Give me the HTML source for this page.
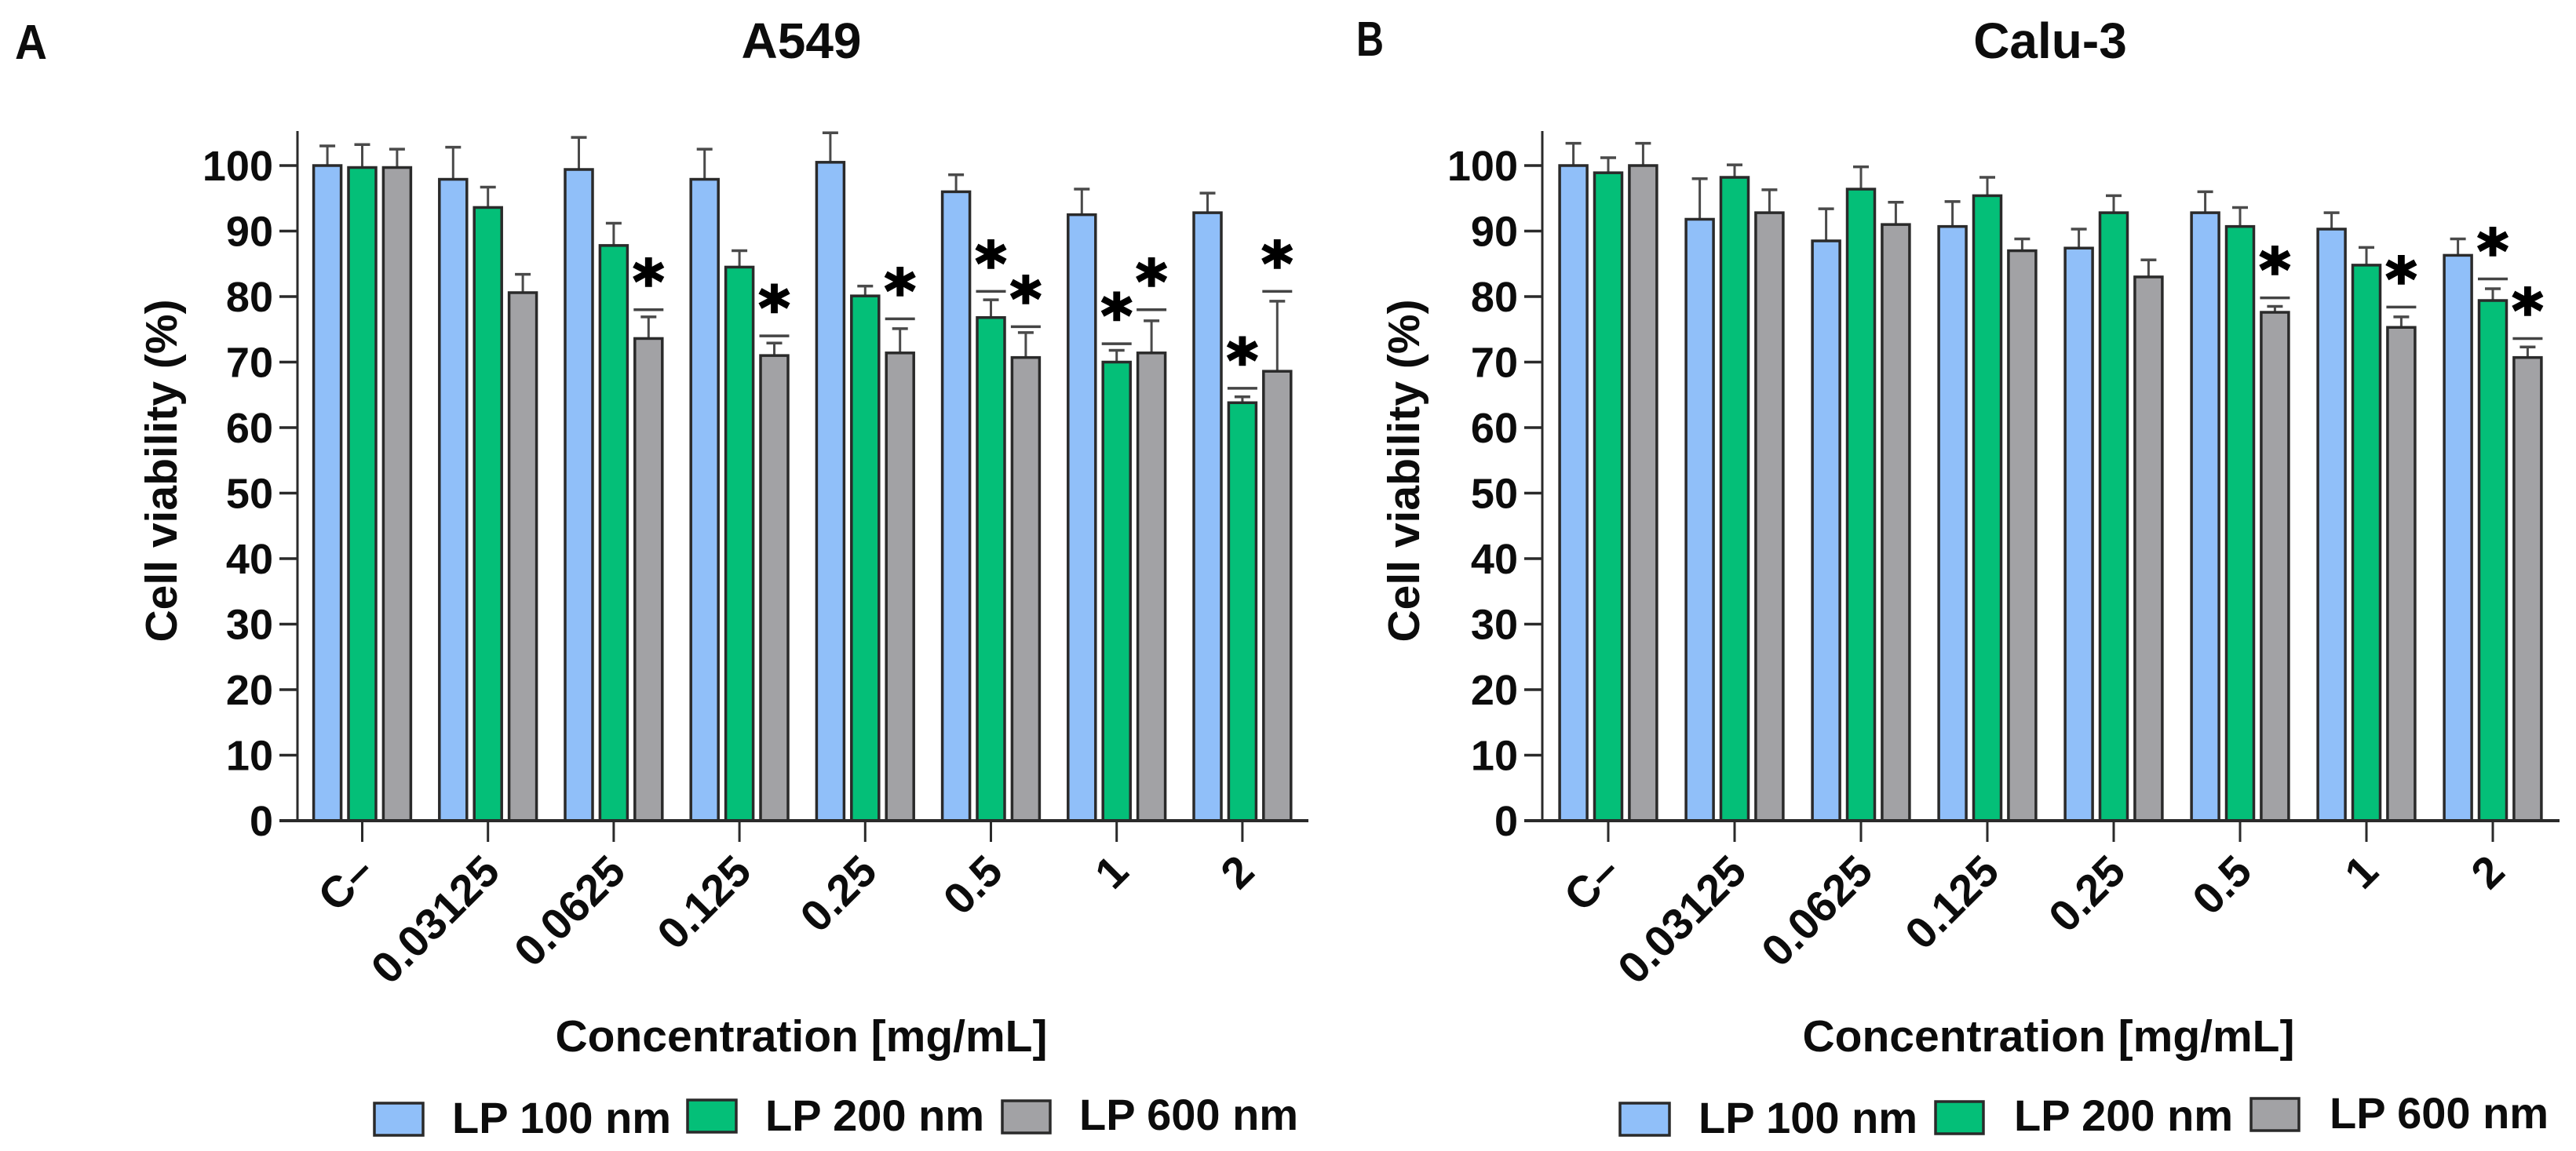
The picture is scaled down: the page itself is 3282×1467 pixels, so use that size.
<!DOCTYPE html>
<html lang="en">
<head>
<meta charset="utf-8">
<title>Cell viability of A549 and Calu-3</title>
<style>
html,body{margin:0;padding:0;background:#fff;width:3282px;height:1467px;overflow:hidden}
svg{display:block}
text{font-family:"Liberation Sans",sans-serif;font-weight:bold;fill:#0c0c0c}
.star{font-family:"DejaVu Sans",sans-serif;fill:#000;stroke:#000;stroke-width:2.5px}
</style>
</head>
<body>
<svg id="figure" xmlns="http://www.w3.org/2000/svg" width="3282" height="1467" viewBox="0 0 3282 1467">
  <text x="19" y="75" font-size="62" textLength="41" lengthAdjust="spacingAndGlyphs">A</text>
  <text x="1728" y="71" font-size="62" textLength="35" lengthAdjust="spacingAndGlyphs">B</text>
  <text x="1021" y="74" font-size="64" text-anchor="middle">A549</text>
  <text x="2612" y="74" font-size="64" text-anchor="middle">Calu-3</text>
  <text transform="translate(225 600) rotate(-90)" font-size="57" text-anchor="middle">Cell viability (%)</text>
  <text transform="translate(1808 600) rotate(-90)" font-size="57" text-anchor="middle">Cell viability (%)</text>
  <text x="1021" y="1340" font-size="57" text-anchor="middle">Concentration [mg/mL]</text>
  <text x="2610" y="1340" font-size="57" text-anchor="middle">Concentration [mg/mL]</text>

  <g>
    <rect x="477" y="1406" width="62" height="41" fill="#90bff9" stroke="#2a2a2a" stroke-width="3.5"/>
    <text x="576" y="1444" font-size="56">LP 100 nm</text>
    <rect x="876" y="1402" width="62" height="41" fill="#04bf78" stroke="#2a2a2a" stroke-width="3.5"/>
    <text x="975" y="1441" font-size="56">LP 200 nm</text>
    <rect x="1277" y="1403" width="61" height="41" fill="#a2a2a5" stroke="#2a2a2a" stroke-width="3.5"/>
    <text x="1375" y="1440" font-size="56">LP 600 nm</text>
  </g>
  <g>
    <rect x="2064" y="1406" width="63" height="41" fill="#90bff9" stroke="#2a2a2a" stroke-width="3.5"/>
    <text x="2164" y="1444" font-size="56">LP 100 nm</text>
    <rect x="2466" y="1404" width="61" height="41" fill="#04bf78" stroke="#2a2a2a" stroke-width="3.5"/>
    <text x="2566" y="1441" font-size="56">LP 200 nm</text>
    <rect x="2868" y="1400" width="61" height="41" fill="#a2a2a5" stroke="#2a2a2a" stroke-width="3.5"/>
    <text x="2968" y="1438" font-size="56">LP 600 nm</text>
  </g>
</svg>
<script>
// Shared labels
const categories = ['C\u2013', '0.03125', '0.0625', '0.125', '0.25', '0.5', '1', '2'];
const yTicks = [0, 10, 20, 30, 40, 50, 60, 70, 80, 90, 100];
const seriesNames = ['LP 100 nm', 'LP 200 nm', 'LP 600 nm'];

// Panel A: A549 means
const a549Lp100 = [100, 97.9, 99.4, 97.9, 100.5, 96, 92.5, 92.8];
const a549Lp200 = [99.7, 93.6, 87.8, 84.5, 80.1, 76.8, 70, 63.8];
const a549Lp600 = [99.7, 80.6, 73.6, 71, 71.4, 70.7, 71.4, 68.6];
// Panel A: upper error-bar values
const a549Lp100Err = [103, 102.8, 104.3, 102.5, 105, 98.6, 96.4, 95.8];
const a549Lp200Err = [103.2, 96.7, 91.2, 87, 81.6, 79.5, 71.8, 64.7];
const a549Lp600Err = [102.5, 83.4, 76.9, 72.9, 75.1, 74.5, 76.3, 79.3];
// Panel A: significance rule levels (null = none)
const a549Lp200Sig = [null, null, null, null, null, 80.8, 72.8, 66];
const a549Lp600Sig = [null, null, 78, 74, 76.6, 75.4, 78, 80.8];

// Panel B: Calu-3 means
const caluLp100 = [100, 91.8, 88.5, 90.7, 87.4, 92.8, 90.3, 86.3];
const caluLp200 = [98.9, 98.2, 96.4, 95.4, 92.8, 90.7, 84.8, 79.4];
const caluLp600 = [100, 92.8, 91, 87, 83, 77.6, 75.3, 70.7];
// Panel B: upper error-bar values
const caluLp100Err = [103.4, 98, 93.4, 94.5, 90.3, 96, 92.8, 88.8];
const caluLp200Err = [101.2, 100.1, 99.8, 98.2, 95.4, 93.6, 87.5, 81.2];
const caluLp600Err = [103.4, 96.3, 94.4, 88.8, 85.6, 78.5, 76.9, 72.3];
// Panel B: significance rule levels (null = none)
const caluLp200Sig = [null, null, null, null, null, null, null, 82.7];
const caluLp600Sig = [null, null, null, null, null, 79.8, 78.4, 73.6];

const NS = 'http://www.w3.org/2000/svg';
const fig = document.getElementById('figure');
const fills = ['#90bff9', '#04bf78', '#a2a2a5'];
const yAxisFn = v => 1046 - v * 8.35;

function mk(tag, attrs, parent) {
  const el = document.createElementNS(NS, tag);
  for (const k in attrs) el.setAttribute(k, attrs[k]);
  parent.appendChild(el);
  return el;
}

function drawPanel(opts) {
  const g = mk('g', {}, fig);
  
  
  const xGroup = i => opts.x0 + opts.step * i;
  const xBar = (i, s) => xGroup(i) + (s - 1) * 44.4;

  opts.means.forEach((values, s) => {
    values.forEach((v, i) => {
      const cx = xBar(i, s);
      const stem = mk('line', {x1: cx, x2: cx, y1: yAxisFn(v), y2: yAxisFn(opts.errs[s][i]), stroke: '#4a4a4a', 'stroke-width': 3}, g);
      
      
      const cap = mk('line', {x1: cx - 10, x2: cx + 10, y1: yAxisFn(opts.errs[s][i]), y2: yAxisFn(opts.errs[s][i]), stroke: '#4a4a4a', 'stroke-width': 3.5}, g);
      
      
      const bar = mk('rect', {x: cx - 17.5, y: yAxisFn(v), width: 35, height: yAxisFn(0) - yAxisFn(v), fill: fills[s], stroke: '#2a2a2a', 'stroke-width': 3.5}, g);
      
      
    });
  });

  opts.sigs.forEach(sig => {
    sig.levels.forEach((lvl, i) => {
      if (lvl === null) return;
      const cx = xBar(i, sig.series);
      const rule = mk('line', {x1: cx - 19, x2: cx + 19, y1: yAxisFn(lvl), y2: yAxisFn(lvl), stroke: '#444', 'stroke-width': 3.5}, g);
      
      
      const star = mk('text', {x: cx, y: yAxisFn(lvl) - 9, 'font-size': 76, 'text-anchor': 'middle', class: 'star'}, g);
      star.textContent = '*';
      
      
    });
  });

  const yAxis = mk('line', {x1: opts.axisX, x2: opts.axisX, y1: 167, y2: 1048, stroke: '#2a2a2a', 'stroke-width': 3}, g);
  
  
  const xAxis = mk('line', {x1: opts.axisX - 23, x2: opts.axisEnd, y1: yAxisFn(0), y2: yAxisFn(0), stroke: '#2a2a2a', 'stroke-width': 4}, g);
  
  

  yTicks.forEach(t => {
    const tick = mk('line', {x1: opts.axisX - 23, x2: opts.axisX, y1: yAxisFn(t), y2: yAxisFn(t), stroke: '#2a2a2a', 'stroke-width': 3.5}, g);
    
    
    const label = mk('text', {x: opts.axisX - 31, y: yAxisFn(t) + 19, 'font-size': 54, 'text-anchor': 'end'}, g);
    label.textContent = t;
    
    
  });

  categories.forEach((c, i) => {
    const cx = xGroup(i);
    const tick = mk('line', {x1: cx, x2: cx, y1: yAxisFn(0), y2: yAxisFn(0) + 27, stroke: '#2a2a2a', 'stroke-width': 3}, g);
    
    
    const lx = cx + 18;
    const ly = 1114;
    const label = mk('text', {transform: 'translate(' + lx + ' ' + ly + ') rotate(-45)', 'font-size': 56, 'text-anchor': 'end'}, g);
    label.textContent = c;
    
    
  });
}

drawPanel({
  id: 'panel-a', x0: 461.5, step: 160.2, axisX: 379, axisEnd: 1667,
  means: [a549Lp100, a549Lp200, a549Lp600],
  errs: [a549Lp100Err, a549Lp200Err, a549Lp600Err],
  sigs: [{series: 1, levels: a549Lp200Sig}, {series: 2, levels: a549Lp600Sig}]
});
drawPanel({
  id: 'panel-b', x0: 2049, step: 161, axisX: 1965, axisEnd: 3261,
  means: [caluLp100, caluLp200, caluLp600],
  errs: [caluLp100Err, caluLp200Err, caluLp600Err],
  sigs: [{series: 1, levels: caluLp200Sig}, {series: 2, levels: caluLp600Sig}]
});
</script>
</body>
</html>
